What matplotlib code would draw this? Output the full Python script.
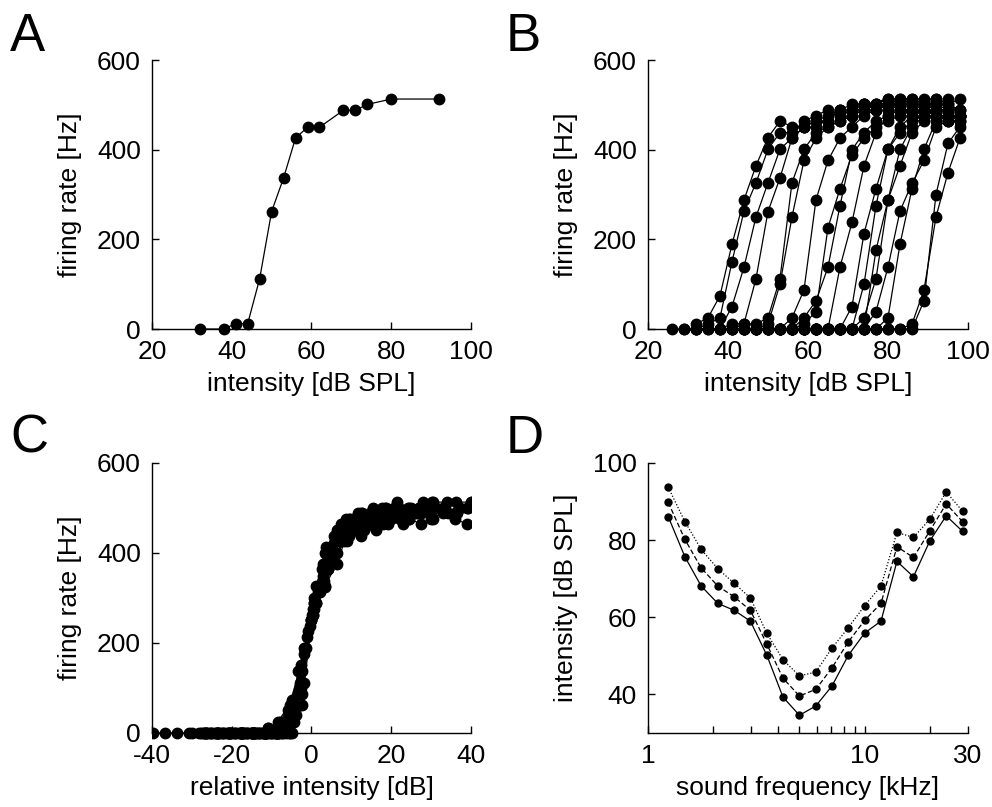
import numpy as np
import matplotlib
matplotlib.use("Agg")
import matplotlib.pyplot as plt
from matplotlib.patches import Rectangle
from matplotlib.ticker import LogLocator, FixedLocator, NullFormatter

plt.rcParams['font.family'] = ['Liberation Sans', 'DejaVu Sans']
plt.rcParams['axes.unicode_minus'] = False

# ---- panel A: single rate-intensity curve
a_int = [32, 38, 41, 44, 47, 50, 53, 56, 59, 62, 68, 71, 74, 80, 92]
a_rate = [0, 0, 12, 12, 112, 262, 337, 426, 450, 450, 488, 488, 501, 513, 513]

# ---- panel B: all curves (3 dB steps from the start level)
b_starts = [32, 29, 32, 38, 41, 44, 26, 41, 44, 47, 50, 53, 56, 56, 59, 62, 65]
b_rates = [
    [11, 25, 74, 189, 288, 364, 427, 464, 451, 451, 464, 476, 489, 501, 501, 489, 501, 513, 513, 501],
    [0, 0, 11, 25, 150, 263, 326, 401, 438, 438, 464, 476, 489, 476, 489, 501, 501, 513, 501, 513],
    [0, 0, 0, 50, 138, 250, 326, 401, 426, 451, 464, 464, 489, 476, 501, 489, 501, 489, 501, 501, 489],
    [0, 0, 11, 11, 25, 112, 326, 401, 438, 451, 464, 476, 489, 501, 501, 513, 501, 513, 501, 513, 476],
    [0, 0, 0, 11, 100, 250, 376, 426, 451, 464, 476, 489, 501, 489, 501, 476, 489, 476, 464, 476],
    [0, 0, 0, 0, 25, 87, 288, 376, 426, 451, 476, 489, 501, 501, 501, 489, 513, 501, 489],
    [0, 0, 0, 0, 0, 0, 0, 0, 0, 0, 0, 11, 39, 226, 313, 388, 426, 451, 464, 476, 489, 476, 489],
    [0, 0, 0, 0, 0, 0, 25, 63, 138, 275, 400, 438, 464, 476, 489, 476, 489, 476, 464, 476],
    [0, 0, 0, 0, 0, 0, 0, 0, 138, 238, 364, 438, 476, 489, 489, 501, 501, 489, 489],
    [0, 0, 0, 0, 0, 0, 0, 0, 50, 213, 313, 401, 438, 464, 476, 489, 476, 464],
    [0, 0, 0, 0, 0, 0, 0, 0, 100, 275, 401, 451, 476, 489, 501, 501, 513],
    [0, 0, 0, 0, 0, 0, 0, 0, 176, 288, 364, 438, 464, 476, 476, 476],
    [0, 0, 0, 0, 0, 0, 0, 39, 138, 263, 325, 376, 451, 464, 464],
    [0, 0, 0, 0, 0, 0, 25, 112, 288, 401, 451, 476, 489, 489, 476],
    [0, 0, 0, 0, 0, 0, 0, 25, 189, 313, 401, 464, 476, 476],
    [0, 0, 0, 0, 0, 0, 0, 0, 11, 87, 250, 349, 426],
    [0, 0, 0, 0, 0, 0, 0, 0, 63, 300, 414, 451],
]

# ---- panel D: threshold curves
d_freq = [1.24, 1.48, 1.76, 2.1, 2.5, 2.97, 3.54, 4.2, 5.0, 5.95, 7.07, 8.4,
          10.0, 11.9, 14.1, 16.8, 20.0, 23.8, 28.3]
d_solid = [86.1, 75.7, 68.1, 63.6, 61.8, 59.0, 50.1, 39.3, 34.6, 37.0, 42.2, 50.1,
           55.9, 59.0, 74.5, 70.5, 79.8, 86.3, 82.3]
d_dashed = [89.8, 80.2, 72.8, 68.1, 65.3, 61.8, 53.0, 44.2, 39.6, 41.3, 46.9, 53.6,
            59.2, 63.6, 78.3, 75.5, 82.4, 89.4, 84.8]
d_dotted = [93.7, 84.8, 77.6, 72.6, 68.8, 65.0, 55.8, 49.0, 44.8, 45.8, 52.0, 57.3,
            63.0, 68.1, 82.0, 80.7, 85.4, 92.5, 87.5]

b_curves = [(a_int, a_rate)]
for s, r in zip(b_starts, b_rates):
    b_curves.append((list(s + 3 * np.arange(len(r))), r))


def threshold(x, y, level=250):
    # level where the curve first crosses the given rate
    for i in range(1, len(y)):
        if y[i] >= level:
            return x[i - 1] + (level - y[i - 1]) * (x[i] - x[i - 1]) / (y[i] - y[i - 1])
    return x[-1]


fig = plt.figure(figsize=(9.92, 8.07), dpi=100)
axA = fig.add_axes([0.1532, 0.5923, 0.3216, 0.3333])
axB = fig.add_axes([0.6532, 0.5923, 0.3226, 0.3333])
axC = fig.add_axes([0.1532, 0.0917, 0.3216, 0.3346])
axD = fig.add_axes([0.6532, 0.0917, 0.3226, 0.3346])

fs = 19


def style(ax):
    for side in ["top", "right"]:
        ax.spines[side].set_visible(False)
    for side in ["left", "bottom"]:
        ax.spines[side].set_linewidth(1.0)
    ax.tick_params(direction="in", length=5, width=1.0, labelsize=fs)
    ax.tick_params(axis="y", pad=8)
    ax.tick_params(axis="x", pad=8)
    ax.xaxis.labelpad = 6
    ax.yaxis.labelpad = 11


def curve(ax, x, y, ms=7.5, **kw):
    ln, = ax.plot(x, y, color="black", lw=0.9, marker="o", ms=ms, **kw)
    ln.set_clip_path(Rectangle((0, -0.05), 1.0, 1.1, transform=ax.transAxes))
    return ln


# A
curve(axA, a_int, a_rate)
axA.set_xlim(20, 100)
axA.set_ylim(0, 600)
axA.set_xticks([20, 40, 60, 80, 100])
axA.set_yticks([0, 200, 400, 600])
axA.set_xlabel("intensity [dB SPL]", fontsize=fs)
axA.set_ylabel("firing rate [Hz]", fontsize=fs)
style(axA)

# B
for x, y in b_curves:
    curve(axB, x, y)
axB.set_xlim(20, 100)
axB.set_ylim(0, 600)
axB.set_xticks([20, 40, 60, 80, 100])
axB.set_yticks([0, 200, 400, 600])
axB.set_xlabel("intensity [dB SPL]", fontsize=fs)
axB.set_ylabel("firing rate [Hz]", fontsize=fs)
style(axB)

# C: same curves relative to their threshold
for x, y in b_curves:
    thr = threshold(x, y)
    curve(axC, np.array(x) - thr, y)
axC.set_xlim(-40, 40)
axC.set_ylim(0, 600)
axC.set_xticks([-40, -20, 0, 20, 40])
axC.set_yticks([0, 200, 400, 600])
axC.set_xlabel("relative intensity [dB]", fontsize=fs)
axC.set_ylabel("firing rate [Hz]", fontsize=fs)
style(axC)

# D
curve(axD, d_freq, d_solid, ms=5, ls="-")
curve(axD, d_freq, d_dashed, ms=5, ls=(0, (4, 2)))
curve(axD, d_freq, d_dotted, ms=5, ls=(0, (1, 1.5)))
axD.set_xscale("log")
axD.set_xlim(1, 30)
axD.set_ylim(30, 100)
axD.xaxis.set_major_locator(FixedLocator([1, 10, 30]))
axD.set_xticklabels(["1", "10", "30"])
axD.xaxis.set_minor_locator(LogLocator(base=10, subs=np.arange(2, 10)))
axD.xaxis.set_minor_formatter(NullFormatter())
axD.set_yticks([40, 60, 80, 100])
axD.set_xlabel("sound frequency [kHz]", fontsize=fs)
axD.set_ylabel("intensity [dB SPL]", fontsize=fs)
style(axD)
axD.tick_params(which="minor", direction="in", length=5, width=1.0)

for lab, x, y in [("A", 0.010, 0.985), ("B", 0.510, 0.985), ("C", 0.010, 0.487), ("D", 0.510, 0.487)]:
    fig.text(x, y, lab, fontsize=38, va="top", ha="left")

fig.savefig("out.png", dpi=100)
